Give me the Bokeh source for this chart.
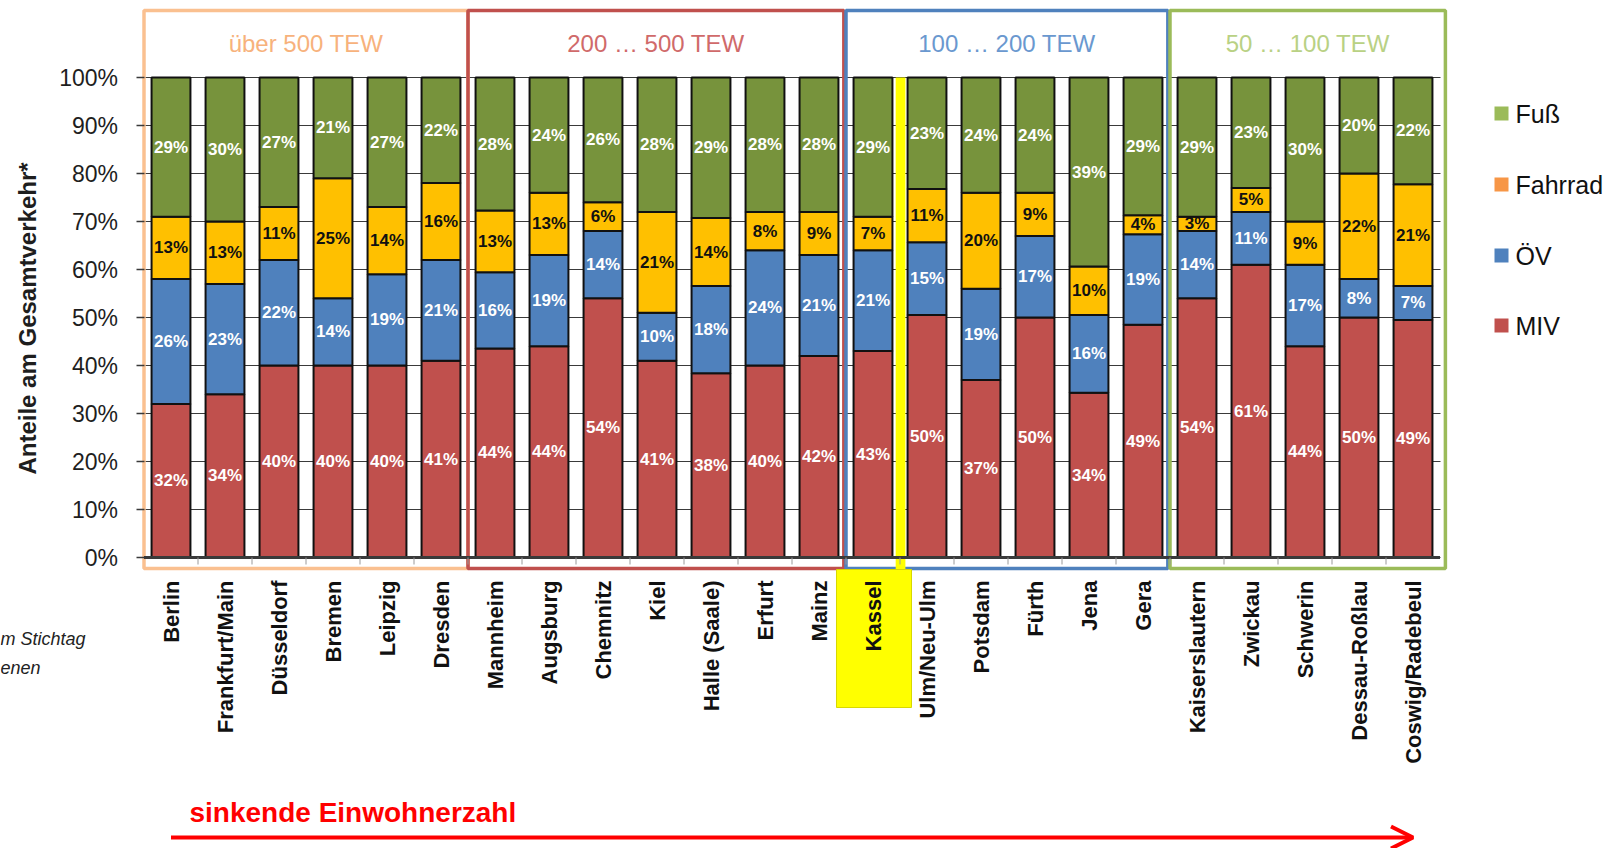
import numpy as np
import pandas as pd
from bokeh.plotting import figure
from bokeh.models import (ColumnDataSource, FixedTicker, PrintfTickFormatter, Range1d,
                          Arrow, OpenHead, Grid)
from bokeh.core.properties import value
from bokeh.embed import file_html
from bokeh.resources import INLINE

# ---------------- data ----------------
cities = ["Berlin", "Frankfurt/Main", "Düsseldorf", "Bremen", "Leipzig", "Dresden",
          "Mannheim", "Augsburg", "Chemnitz", "Kiel", "Halle (Saale)", "Erfurt", "Mainz",
          "Kassel", "Ulm/Neu-Ulm", "Potsdam", "Fürth", "Jena", "Gera",
          "Kaiserslautern", "Zwickau", "Schwerin", "Dessau-Roßlau", "Coswig/Radebeul"]
miv     = [32, 34, 40, 40, 40, 41, 44, 44, 54, 41, 38, 40, 42, 43, 50, 37, 50, 34, 49, 54, 61, 44, 50, 49]
oev     = [26, 23, 22, 14, 19, 21, 16, 19, 14, 10, 18, 24, 21, 21, 15, 19, 17, 16, 19, 14, 11, 17, 8, 7]
fahrrad = [13, 13, 11, 25, 14, 16, 13, 13, 6, 21, 14, 8, 9, 7, 11, 20, 9, 10, 4, 3, 5, 9, 22, 21]
fuss    = [29, 30, 27, 21, 27, 22, 28, 24, 26, 28, 29, 28, 28, 29, 23, 24, 24, 39, 29, 29, 23, 30, 20, 22]
modes = ["MIV", "ÖV", "Fahrrad", "Fuß"]
legend_order = ["Fuß", "Fahrrad", "ÖV", "MIV"]
group_names = ["über 500 TEW", "200 … 500 TEW", "100 … 200 TEW", "50 … 100 TEW"]
group_sizes = [6, 7, 6, 5]
highlight = "Kassel"
y_ticks = [0, 10, 20, 30, 40, 50, 60, 70, 80, 90, 100]
y_title = "Anteile am Gesamtverkehr*"
arrow_text = "sinkende Einwohnerzahl"
footnote = ["m Stichtag", "enen"]

# ---------------- styles ----------------
bar_colors = {"MIV": "#C0504D", "ÖV": "#4F81BD", "Fahrrad": "#FFC000", "Fuß": "#77933C"}
legend_colors = {"MIV": "#C0504D", "ÖV": "#4F81BD", "Fahrrad": "#F79646", "Fuß": "#9BBB59"}
label_colors = {"MIV": "white", "ÖV": "white", "Fahrrad": "#111111", "Fuß": "white"}
box_colors = ["#FAC090", "#C0504D", "#4F81BD", "#9BBB59"]
head_colors = ["#F7B27C", "#D06A6A", "#6A98CF", "#B9D184"]
FONT = "Liberation Sans"

W, H = 1612, 848
X0, PX = 170.5, 54.0        # canvas x of first category, px per category
Y100, PY = 77.0, 4.8        # canvas y of 100 %, px per percent

def cx(px):
    return (px - X0) / PX

def cy(py):
    return 100 - (py - Y100) / PY

# ---------------- table ----------------
df = pd.DataFrame({"city": cities, "MIV": miv, "ÖV": oev, "Fahrrad": fahrrad, "Fuß": fuss})
df["x"] = np.arange(len(cities))
tot = df[modes].sum(axis=1)
for m in modes:
    df["n_" + m] = df[m] / tot * 100
source = ColumnDataSource(df)

p = figure(width=W, height=H, output_backend="svg", toolbar_location=None,
           x_range=Range1d(cx(0), cx(W)), y_range=Range1d(cy(H), cy(0)),
           x_axis_type=None, min_border_left=0, min_border_right=0,
           min_border_top=0, min_border_bottom=0)
p.outline_line_color = None
p.background_fill_color = "white"
p.border_fill_color = "white"

# y axis, placed at the left edge of the category area
ax = p.yaxis[0]
ax.fixed_location = -0.5
ax.ticker = FixedTicker(ticks=y_ticks)
ax.formatter = PrintfTickFormatter(format="%d%%")
ax.bounds = (0, 100)
ax.axis_line_color = None
ax.major_tick_line_color = "#3a3a3a"
ax.major_tick_line_width = 1.5
ax.major_tick_out = 8
ax.major_tick_in = 0
ax.minor_tick_line_color = None
ax.major_label_standoff = 18
ax.major_label_text_font = FONT
ax.major_label_text_font_size = "23px"
ax.major_label_text_color = "#1e1e1e"

g = p.ygrid[0]
g.grid_line_color = "#3a3a3a"
g.grid_line_width = 1.2
if "cross_bounds" in Grid.properties():
    g.cross_bounds = (-0.5, len(cities) - 0.5)

# y title
p.text(x=[cx(27)], y=[cy(318)], text=[y_title], angle=np.pi / 2, text_align="center",
       text_baseline="middle", text_font=value(FONT), text_font_size="24px",
       text_font_style="bold", text_color="#1e1e1e")

# group boxes
edges = np.concatenate([[-0.5], np.cumsum(group_sizes) - 0.5])
edges[-1] += 0.1
box_top, box_bot = cy(10), cy(568)
for i, name in enumerate(group_names):
    l, r = edges[i], edges[i + 1]
    if 0 < i < len(group_names) - 1:
        r -= 0.04
    p.quad(left=[l], right=[r], top=[box_top], bottom=[box_bot], fill_color=None,
           line_color=box_colors[i], line_width=3.5)
    p.text(x=[(l + r) / 2], y=[cy(43)], text=[name], text_align="center",
           text_baseline="middle", text_font=value(FONT), text_font_size="24px",
           text_color=head_colors[i])

# highlight of Kassel
k = cities.index(highlight)
p.quad(left=[k + 0.42], right=[k + 0.60], top=[100], bottom=[cy(569)],
       fill_color="#FFFF00", line_color=None)
p.quad(left=[k - 0.676], right=[k + 0.713], top=[cy(569)], bottom=[cy(707)],
       fill_color="#FFFF00", line_color="#D8D800", line_width=1)

# stacked bars
p.vbar_stack(["n_" + m for m in modes], x="x", width=0.72, source=source,
             color=[bar_colors[m] for m in modes], line_color="#111111", line_width=2)

# floor and small category ticks
p.segment(x0=[-0.5], x1=[len(cities) - 0.5], y0=[0], y1=[0], line_color="#3a3a3a", line_width=3)
bx = np.arange(len(cities) - 1) + 0.5
p.segment(x0=bx, x1=bx, y0=np.zeros_like(bx), y1=np.full_like(bx, cy(564)),
          line_color="#9a9a9a", line_width=1)

# data labels
base = np.zeros(len(cities))
for m in modes:
    vals = df["n_" + m].to_numpy()
    centers = base + vals / 2
    base = base + vals
    p.text(x=df["x"], y=centers, text=[f"{v}%" for v in df[m]], text_align="center",
           text_baseline="middle", text_font=value(FONT), text_font_size="17px",
           text_font_style="bold", text_color=label_colors[m])

# category labels
p.text(x=df["x"], y=np.full(len(cities), cy(580)), text=cities, angle=np.pi / 2,
       text_align="right", text_baseline="middle", text_font=value(FONT),
       text_font_size="22px", text_font_style="bold", text_color="#111111")

# legend
leg_y = [cy(113), cy(184), cy(255), cy(325)]
p.scatter(x=[cx(1501)] * 4, y=leg_y, marker="square", size=14,
          color=[legend_colors[m] for m in legend_order], line_color=None)
p.text(x=[cx(1515)] * 4, y=leg_y, text=legend_order, text_align="left",
       text_baseline="middle", text_font=value(FONT), text_font_size="25px",
       text_color="#111111")

# arrow and its text
p.add_layout(Arrow(x_start=0, y_start=cy(837), x_end=len(cities) - 1, y_end=cy(837),
                   line_color="#FF0000", line_width=4,
                   end=OpenHead(size=22, line_color="#FF0000", line_width=4)))
p.text(x=[cx(189)], y=[cy(812)], text=[arrow_text], text_align="left",
       text_baseline="middle", text_font=value(FONT), text_font_size="28px",
       text_font_style="bold", text_color="#FF0000")

# cut-off footnote on the left
p.text(x=[cx(0)] * 2, y=[cy(638), cy(667)], text=footnote, text_align="left",
       text_baseline="middle", text_font=value(FONT), text_font_size="18px",
       text_font_style="italic", text_color="#222222")

open("out.html", "w").write(file_html(p, INLINE))
